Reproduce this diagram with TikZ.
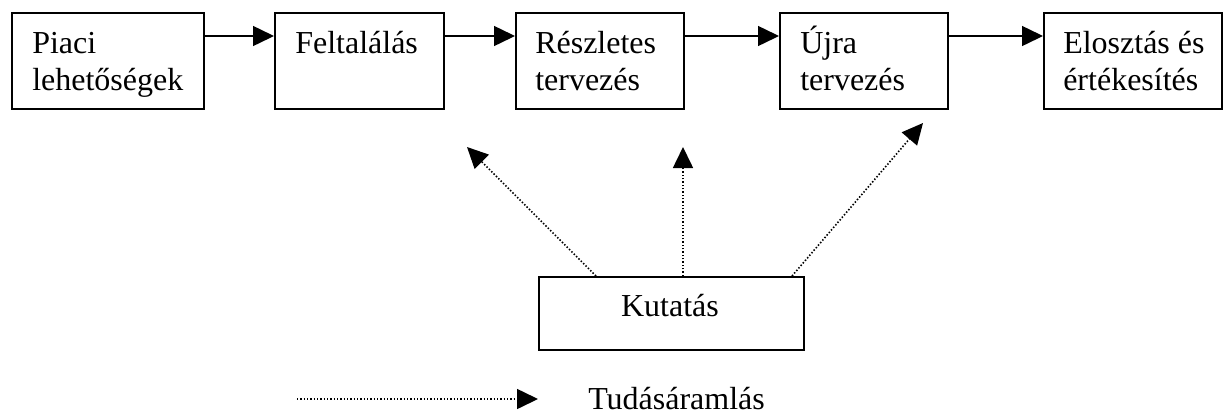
\documentclass[tikz,border=0pt]{standalone}
\usepackage{fontspec}
\setmainfont{Liberation Serif}
\usetikzlibrary{arrows.meta}
\begin{document}
\begin{tikzpicture}[x=0.75pt,y=-0.75pt,
  box/.style={draw,line width=1.3pt,inner sep=0pt,anchor=north west},
  lbl/.style={inner sep=0pt,anchor=base west,font=\fontsize{24}{27.75}\selectfont},
  tip/.style={-{Triangle[length=15.75pt,width=15pt]}},
  arr/.style={tip,line width=1.1pt},
  dotarr/.style={tip,line width=1.2pt,dash pattern=on 1.1pt off 1.4pt}]
\useasboundingbox (0,0) rectangle (1223,415);
% boxes
\node[box,minimum width=144pt,minimum height=72pt] (b1) at (11,12) {};
\node[box,minimum width=126.75pt,minimum height=72pt] (b2) at (274,12) {};
\node[box,minimum width=126pt,minimum height=72pt] (b3) at (515,12) {};
\node[box,minimum width=126pt,minimum height=72pt] (b4) at (779,12) {};
\node[box,minimum width=133.5pt,minimum height=72pt] (b5) at (1043,12) {};
\node[box,minimum width=198.75pt,minimum height=54.75pt] (kut) at (538,276) {};
% texts
\node[lbl] (t1) at (32,53) {\parbox[t]{130pt}{Piaci\\lehetőségek}};
\node[lbl] (t2) at (295,53) {\parbox[t]{110pt}{Feltalálás}};
\node[lbl] (t3) at (535,53) {\parbox[t]{110pt}{Részletes\\tervezés}};
\node[lbl] (t4) at (800,53) {\parbox[t]{110pt}{Újra\\tervezés}};
\node[lbl] (t5) at (1063,53) {\parbox[t]{125pt}{Elosztás és\\értékesítés}};
\node[lbl,anchor=base] (t6) at (670,316) {Kutatás};
% main flow
\draw[arr] ([yshift=-18pt]b1.north east) -- ([yshift=-18pt]b2.north west);
\draw[arr] ([yshift=-18pt]b2.north east) -- ([yshift=-18pt]b3.north west);
\draw[arr] ([yshift=-18pt]b3.north east) -- ([yshift=-18pt]b4.north west);
\draw[arr] ([yshift=-18pt]b4.north east) -- ([yshift=-18pt]b5.north west);
% knowledge flow
\coordinate (e1) at (467,147);
\coordinate (e2) at (683,147);
\coordinate (e3) at (923,123);
\draw[dotarr] ([xshift=43.5pt]kut.north west) -- (e1);
\draw[dotarr] ([xshift=108.75pt]kut.north west) -- (e2);
\draw[dotarr] ([xshift=190.5pt]kut.north west) -- (e3);
% legend
\coordinate (l1) at (297,399);
\coordinate (l2) at (538,399);
\draw[dotarr] (l1) -- (l2);
\node[lbl] (leg) at (588,409) {Tudásáramlás};
\end{tikzpicture}
\end{document}
